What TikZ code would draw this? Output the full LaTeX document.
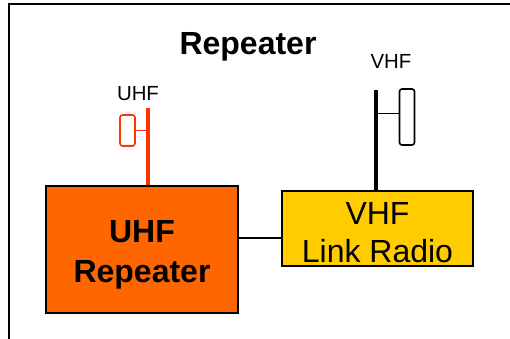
\documentclass[tikz,border=0pt]{standalone}
\usepackage{fontspec}
\setmainfont{Liberation Sans}
\definecolor{uhforange}{RGB}{255,102,0}
\definecolor{vhfyellow}{RGB}{255,204,0}
\definecolor{uhfred}{RGB}{255,51,0}
\tikzset{
  boxnode/.style={draw=black,line width=2.2pt,inner sep=0pt,align=center},
  antenna/.style={draw=#1,rounded corners=2.5pt,line width=1.6pt,inner sep=0pt},
  mast/.style={line width=3.8pt},
  stub/.style={line width=1.8pt},
  lbl/.style={inner sep=0pt,font=\fontsize{20.4}{24}\selectfont}
}
\begin{document}
\begin{tikzpicture}[x=1pt,y=-1pt]
\useasboundingbox (0,0) rectangle (510,339);
\coordinate (frameTL) at (8.5,4);
\coordinate (frameTR) at (510,4);
\coordinate (frameBL) at (8.5,339);
\draw[line width=2pt] (frameTR) -- (frameTL) -- (frameBL);
\node[inner sep=0pt,font=\fontsize{32}{40}\selectfont\bfseries] (title) at (248,47) {Repeater};
\node[boxnode,fill=uhforange,minimum width=192pt,minimum height=127pt,font=\fontsize{32}{39.5}\selectfont\bfseries,text depth=0pt] (uhf) at (142,249.5) {};
\node[inner sep=0pt,align=center,font=\fontsize{32}{39.5}\selectfont\bfseries] (uhftext) at (142,255) {UHF\\Repeater};
\node[boxnode,fill=vhfyellow,line width=1.6pt,minimum width=191pt,minimum height=75pt] (vhf) at (377.5,228.5) {};
\node[inner sep=0pt,align=center,font=\fontsize{32}{38}\selectfont] (vhftext) at (377.5,232.5) {VHF\\Link Radio};
\draw[line width=1.8pt] (uhf.east |- 0,238) coordinate (la) -- (vhf.west |- 0,238) coordinate (lb);
% UHF antenna
\coordinate (utop) at (148,108);
\coordinate (ubot) at (148,185);
\draw[mast,uhfred] (utop) -- (ubot);
\node[antenna=uhfred,minimum width=15pt,minimum height=31pt] (uant) at (127.5,130.5) {};
\coordinate (ustub) at (148,130.5);
\draw[stub,uhfred] (uant.east) -- (ustub);
\node[lbl] (ulabel) at (138,94) {UHF};
% VHF antenna
\coordinate (vtop) at (376,90);
\coordinate (vbot) at (376,191);
\draw[mast,black] (vtop) -- (vbot);
\node[antenna=black,minimum width=15pt,minimum height=56pt] (vant) at (407,117) {};
\coordinate (vstub) at (376,113.5);
\draw[stub,black] (vant.west |- vstub) -- (vstub);
\node[lbl] (vlabel) at (391,61) {VHF};
\end{tikzpicture}
\end{document}
